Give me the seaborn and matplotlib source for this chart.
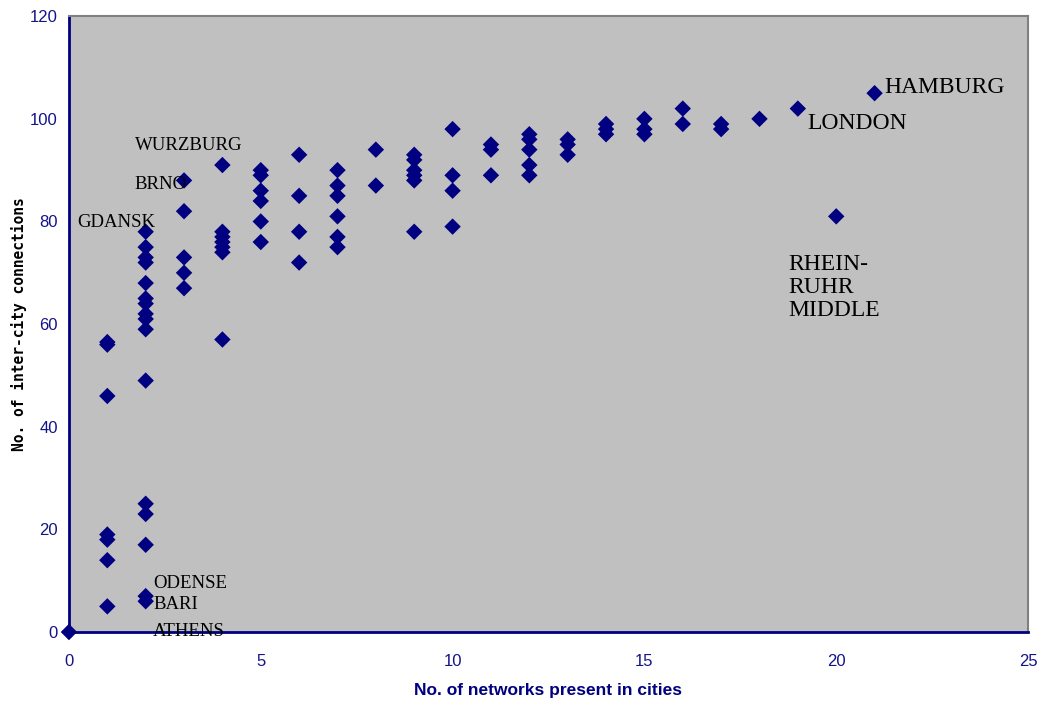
import pandas as pd
import matplotlib.pyplot as plt
import seaborn as sns

# networks per city (x) and inter-city connections (y), read column by column
networks = ([0]
            + [1] * 7
            + [2] * 16
            + [3] * 5
            + [4] * 7
            + [5] * 6
            + [6] * 4
            + [7] * 6
            + [8] * 2
            + [9] * 6
            + [10] * 4
            + [11] * 3
            + [12] * 5
            + [13] * 3
            + [14] * 3
            + [15] * 3
            + [16] * 2
            + [17] * 2
            + [18, 19, 20, 21])
connections = ([0]
               + [56.5, 56, 46, 19, 18, 14, 5]
               + [78, 75, 73, 72, 68, 65, 64, 62, 61, 59, 49, 25, 23, 17, 7, 6]
               + [88, 82, 73, 70, 67]
               + [91, 78, 77, 76, 75, 74, 57]
               + [90, 89, 86, 84, 80, 76]
               + [93, 85, 78, 72]
               + [90, 87, 85, 81, 77, 75]
               + [94, 87]
               + [93, 92, 90, 89, 88, 78]
               + [98, 89, 86, 79]
               + [95, 94, 89]
               + [97, 96, 94, 91, 89]
               + [96, 95, 93]
               + [99, 98, 97]
               + [100, 98, 97]
               + [102, 99]
               + [99, 98]
               + [100, 102, 81, 105])

# city labels: text, x, y (data coords)
small_labels = ["WURZBURG", "BRNO", "GDANSK", "ODENSE", "BARI", "ATHENS"]
small_x = [1.72, 1.72, 0.21, 2.19, 2.19, 2.19]
small_y = [94.9, 87.3, 79.9, 9.5, 5.3, 0.2]
big_labels = ["HAMBURG", "LONDON", "RHEIN-\nRUHR\nMIDDLE"]
big_x = [21.25, 19.26, 18.74]
big_y = [106.2, 99.0, 67.2]

navy = "#000080"

df = pd.DataFrame({"networks": networks, "connections": connections})

sns.set_style("white")
plt.rcParams["font.family"] = ["Liberation Sans", "DejaVu Sans"]

fig = plt.figure(figsize=(10.4, 7.05), dpi=100)
ax = fig.add_axes([0.0663, 0.1035, 0.9222, 0.8735])
ax.set_facecolor("#C0C0C0")

sns.scatterplot(data=df, x="networks", y="connections", marker="D", s=70,
                color=navy, edgecolor="none", ax=ax, clip_on=False, zorder=3)

for t, x, y in zip(small_labels, small_x, small_y):
    ax.text(x, y, t, family="Liberation Serif", fontsize=13.5, color="black",
            va="center", ha="left")
for t, x, y in zip(big_labels, big_x, big_y):
    ax.text(x, y, t, family="Liberation Serif", fontsize=17, color="black",
            va="center", ha="left", linespacing=1.12)

ax.set_xlim(0, 25)
ax.set_ylim(0, 120)
ax.set_xticks(range(0, 26, 5))
ax.set_yticks(range(0, 121, 20))

for side in ["left", "bottom"]:
    ax.spines[side].set_color(navy)
    ax.spines[side].set_linewidth(2)
for side in ["top", "right"]:
    ax.spines[side].set_color("#808080")
    ax.spines[side].set_linewidth(1.5)

ax.tick_params(axis="both", direction="out", length=5, width=1.2,
               color=navy, labelcolor="#141488", labelsize=12)
ax.tick_params(axis="x", pad=11)
ax.tick_params(axis="y", pad=3)

ax.set_xlabel("No. of networks present in cities", fontsize=12.5,
              fontweight="bold", color=navy, labelpad=10)
ax.set_ylabel("No. of inter-city connections", fontsize=10.5,
              fontweight="bold", color="black", labelpad=2,
              family="DejaVu Sans Mono")

fig.savefig("out.png", dpi=100)
